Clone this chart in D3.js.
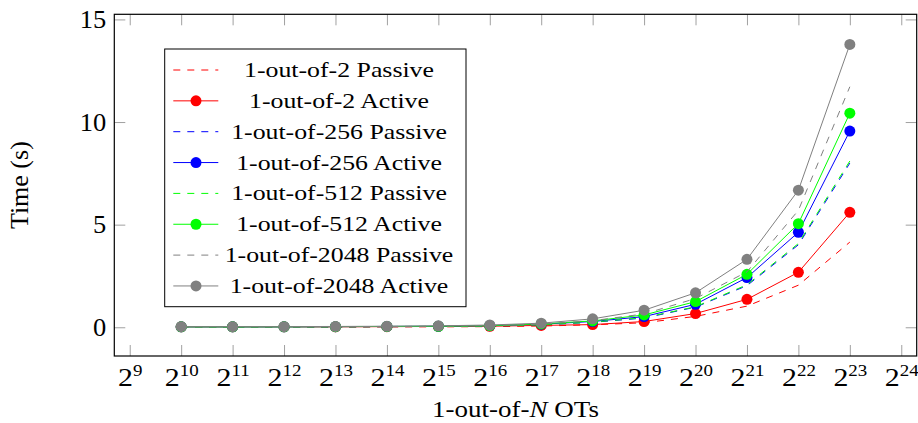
<!DOCTYPE html>
<html>
<head>
<meta charset="utf-8">
<script src="https://cdn.jsdelivr.net/npm/d3@7/dist/d3.min.js"></script>
<style>
  html, body { margin: 0; padding: 0; background: #fff; }
  svg { display: block; font-family: "Liberation Serif", "Times New Roman", serif; }
</style>
</head>
<body>
<svg id="chart" width="918" height="423"></svg>
<script>
// ---- data ----
const exponents = [10, 11, 12, 13, 14, 15, 16, 17, 18, 19, 20, 21, 22, 23];
const xTickExponents = [9, 10, 11, 12, 13, 14, 15, 16, 17, 18, 19, 20, 21, 22, 23, 24];
const yTicks = [0, 5, 10, 15];

const passive2    = [0.01, 0.01, 0.01, 0.01, 0.02, 0.02, 0.03, 0.06, 0.12, 0.22, 0.53, 1.03, 2.05, 4.15];
const active2     = [0.02, 0.02, 0.02, 0.02, 0.03, 0.04, 0.05, 0.09, 0.13, 0.28, 0.67, 1.36, 2.68, 5.60];
const passive256  = [0.01, 0.01, 0.02, 0.02, 0.03, 0.04, 0.06, 0.12, 0.24, 0.45, 0.98, 2.03, 4.02, 8.00];
const active256   = [0.02, 0.02, 0.02, 0.03, 0.04, 0.05, 0.08, 0.15, 0.28, 0.52, 1.12, 2.42, 4.63, 9.56];
const passive512  = [0.01, 0.01, 0.02, 0.02, 0.03, 0.04, 0.06, 0.12, 0.25, 0.47, 1.00, 2.07, 4.08, 8.10];
const active512   = [0.02, 0.02, 0.02, 0.03, 0.04, 0.05, 0.08, 0.16, 0.31, 0.60, 1.25, 2.58, 5.05, 10.43];
const passive2048 = [0.01, 0.02, 0.02, 0.03, 0.04, 0.05, 0.08, 0.15, 0.32, 0.65, 1.40, 2.70, 5.70, 11.72];
const active2048  = [0.03, 0.03, 0.03, 0.04, 0.05, 0.07, 0.11, 0.20, 0.41, 0.83, 1.68, 3.31, 6.68, 13.78];

const seriesNames = [
  "1-out-of-2 Passive", "1-out-of-2 Active",
  "1-out-of-256 Passive", "1-out-of-256 Active",
  "1-out-of-512 Passive", "1-out-of-512 Active",
  "1-out-of-2048 Passive", "1-out-of-2048 Active"
];
const seriesValues = [passive2, active2, passive256, active256, passive512, active512, passive2048, active2048];
const seriesColors = ["#ff0000", "#ff0000", "#0000ff", "#0000ff", "#00ff00", "#00ff00", "#808080", "#808080"];
const seriesActive = [false, true, false, true, false, true, false, true];

// ---- layout ----
const svg = d3.select("#chart");
const L = 114.3, R = 916.7, T = 14.3, B = 356;
const x = d3.scaleLinear().domain([8.7, 24.3]).range([L, R]);
const y = d3.scaleLinear().domain([-1.4, 15.25]).range([B, T]);
const tickLen = 11;
const tickColor = "#a0a0a0";

// axes (ticks pointing inward on all four sides)
const gB = svg.append("g").attr("transform", `translate(0,${B})`)
  .call(d3.axisBottom(x).tickValues(xTickExponents).tickSize(-tickLen).tickPadding(0));
const gT = svg.append("g").attr("transform", `translate(0,${T})`)
  .call(d3.axisTop(x).tickValues(xTickExponents).tickSize(-tickLen).tickFormat(""));
const gL = svg.append("g").attr("transform", `translate(${L},0)`)
  .call(d3.axisLeft(y).tickValues(yTicks).tickSize(-tickLen).tickPadding(8));
const gR = svg.append("g").attr("transform", `translate(${R},0)`)
  .call(d3.axisRight(y).tickValues(yTicks).tickSize(-tickLen).tickFormat(""));

[gB, gT, gL, gR].forEach(g => {
  g.select(".domain").remove();
  g.selectAll(".tick line").attr("stroke", tickColor).attr("stroke-width", 1);
  g.attr("font-family", null).attr("font-size", null);
});

gL.selectAll(".tick text")
  .attr("x", 0).attr("transform", "translate(-8,0) scale(1.08,1)")
  .attr("font-size", 24.5).attr("fill", "#000").attr("dy", "0.34em");

gB.selectAll(".tick text").each(function(d) {
  const t = d3.select(this);
  t.text(null).attr("y", 0).attr("dy", null)
    .attr("transform", "translate(0,29.7) scale(1.15,1)")
    .attr("font-size", 26).attr("fill", "#000");
  t.append("tspan").text("2");
  t.append("tspan").attr("dy", -10).attr("font-size", 16.5).text(String(d));
});

// frame
svg.append("rect").attr("x", L).attr("y", T).attr("width", R - L).attr("height", B - T)
  .attr("fill", "none").attr("stroke", "#000").attr("stroke-width", 1.2);

// series
const line = d3.line().x((d, i) => x(exponents[i])).y(d => y(d));
const plot = svg.append("g");
seriesValues.forEach((vals, k) => {
  const g = plot.append("g");
  g.append("path").datum(vals).attr("d", line)
    .attr("fill", "none").attr("stroke", seriesColors[k]).attr("stroke-width", 1)
    .attr("stroke-dasharray", seriesActive[k] ? null : "7,7");
  if (seriesActive[k]) {
    g.selectAll("circle").data(vals).join("circle")
      .attr("cx", (d, i) => x(exponents[i])).attr("cy", d => y(d))
      .attr("r", 5.5).attr("fill", seriesColors[k]);
  }
});

// legend
const lg = svg.append("g");
lg.append("rect").attr("x", 164.7).attr("y", 49).attr("width", 466 - 164.7).attr("height", 306.7 - 49)
  .attr("fill", "#fff").attr("stroke", "#000").attr("stroke-width", 1);
const rowY0 = 70, rowStep = 30.85;
seriesNames.forEach((name, k) => {
  const cy = rowY0 + k * rowStep;
  lg.append("line").attr("x1", 173.3).attr("x2", 218.3).attr("y1", cy).attr("y2", cy)
    .attr("stroke", seriesColors[k]).attr("stroke-width", 1)
    .attr("stroke-dasharray", seriesActive[k] ? null : "7,7");
  if (seriesActive[k]) {
    lg.append("circle").attr("cx", 196).attr("cy", cy).attr("r", 5.5).attr("fill", seriesColors[k]);
  }
  lg.append("text").attr("transform", `translate(339,${cy}) scale(1.26,1)`).attr("dy", "0.34em")
    .attr("text-anchor", "middle").attr("font-size", 20.5).attr("fill", "#000").text(name);
});

// axis titles
const xt = svg.append("text").attr("transform", `translate(${(L + R) / 2},417) scale(1.2,1)`)
  .attr("text-anchor", "middle").attr("font-size", 22.5).attr("fill", "#000");
xt.append("tspan").text("1-out-of-");
xt.append("tspan").attr("font-style", "italic").text("N");
xt.append("tspan").text(" OTs");

svg.append("text").attr("transform", `translate(28,${(T + B) / 2}) rotate(-90)`)
  .attr("text-anchor", "middle").attr("font-size", 26).attr("fill", "#000").text("Time (s)");
</script>
</body>
</html>
